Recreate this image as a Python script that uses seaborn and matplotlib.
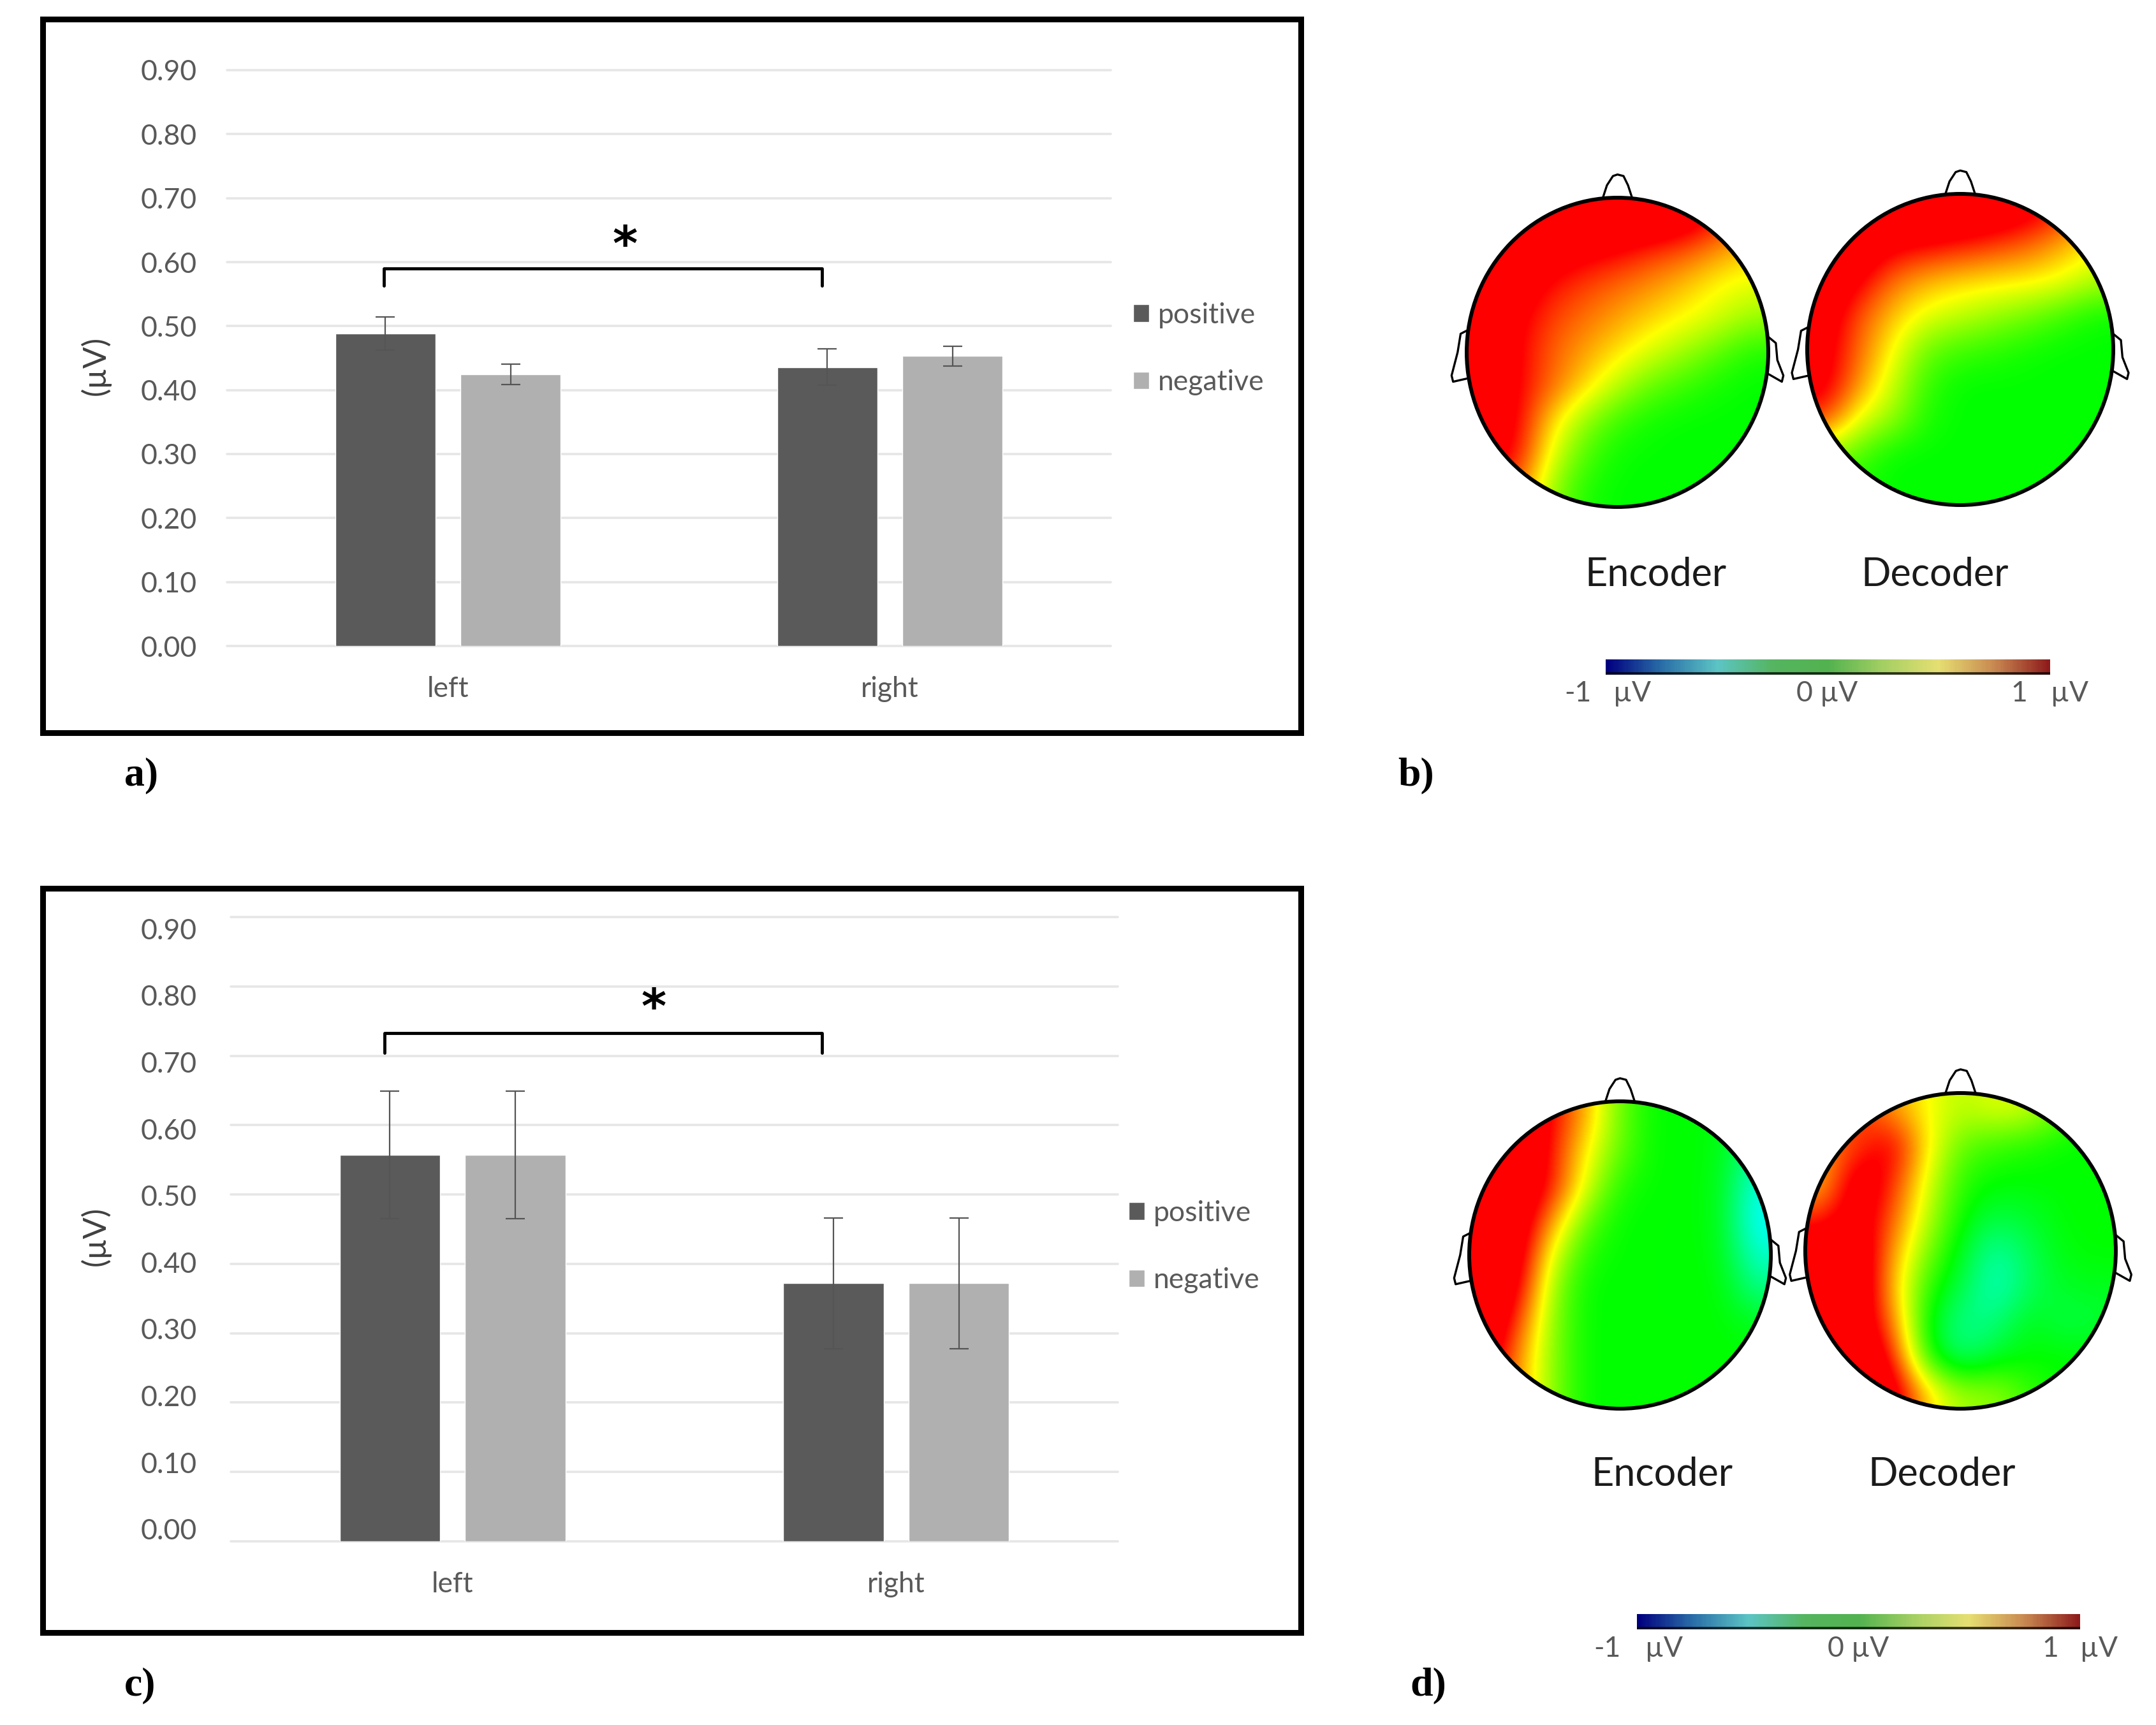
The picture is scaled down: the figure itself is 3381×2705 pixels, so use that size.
import numpy as np
import pandas as pd
import matplotlib
matplotlib.use('Agg')
import matplotlib.pyplot as plt
import seaborn as sns
from matplotlib.colors import LinearSegmentedColormap
from matplotlib.patches import Ellipse, Rectangle

W, H = 3381, 2705

sides = ['left', 'right']
valences = ['positive', 'negative']
y_ticks = [0.0, 0.1, 0.2, 0.3, 0.4, 0.5, 0.6, 0.7, 0.8, 0.9]

# panel a
a_left = [0.488, 0.425]
a_right = [0.436, 0.453]
a_left_err = [0.026, 0.016]
a_right_err = [0.028, 0.015]

# panel c
c_left = [0.557, 0.557]
c_right = [0.372, 0.372]
c_left_err = [0.092, 0.092]
c_right_err = [0.094, 0.094]

# scalp values (uV), rows front to back, columns left to right
b_encoder = [
    [1.30, 1.30, 1.30, 1.30, 1.30, 1.30, 1.20, 1.00, 0.80],
    [1.30, 1.30, 1.15, 1.08, 1.02, 0.92, 0.85, 0.72, 0.60],
    [1.30, 1.15, 0.98, 0.88, 0.80, 0.72, 0.62, 0.50, 0.45],
    [1.20, 1.05, 0.88, 0.78, 0.68, 0.58, 0.50, 0.42, 0.30],
    [1.20, 1.03, 0.82, 0.68, 0.55, 0.42, 0.30, 0.17, 0.05],
    [1.20, 1.03, 0.80, 0.58, 0.35, 0.18, 0.10, 0.03, 0.00],
    [1.20, 1.03, 0.58, 0.28, 0.10, 0.03, 0.00, 0.00, 0.00],
    [1.10, 1.00, 0.45, 0.15, 0.02, 0.00, 0.00, 0.00, 0.00],
    [1.00, 0.80, 0.30, 0.05, 0.00, 0.00, 0.00, 0.00, 0.00],
]
b_decoder = [
    [1.30, 1.30, 1.30, 1.30, 1.25, 1.20, 1.10, 0.95, 0.70],
    [1.30, 1.20, 1.05, 1.00, 0.95, 0.88, 0.80, 0.65, 0.50],
    [1.20, 1.05, 0.78, 0.65, 0.58, 0.55, 0.53, 0.48, 0.35],
    [1.15, 0.85, 0.62, 0.45, 0.38, 0.30, 0.22, 0.12, 0.02],
    [1.10, 0.80, 0.50, 0.20, 0.12, 0.08, 0.03, 0.00, 0.00],
    [1.10, 0.72, 0.40, 0.10, 0.00, 0.00, 0.00, 0.00, 0.00],
    [0.90, 0.45, 0.30, 0.05, 0.00, 0.00, 0.00, 0.00, 0.00],
    [0.30, 0.15, 0.00, 0.00, 0.00, 0.00, 0.00, 0.00, 0.00],
    [0.10, 0.05, 0.00, 0.00, 0.00, 0.00, 0.00, 0.00, 0.00],
]
d_encoder = [
    [1.30, 1.30, 1.00, 0.65, 0.20, 0.00, 0.00, -0.02, -0.20],
    [1.30, 1.30, 0.95, 0.50, 0.18, 0.00, 0.00, -0.02, -0.30],
    [1.30, 1.25, 0.95, 0.42, 0.05, 0.00, 0.00, -0.03, -0.45],
    [1.30, 1.20, 0.68, 0.18, 0.00, 0.00, 0.00, -0.03, -0.50],
    [1.30, 1.15, 0.42, 0.05, 0.00, 0.00, 0.00, -0.02, -0.40],
    [1.30, 1.05, 0.28, 0.00, 0.00, 0.00, 0.00, 0.00, -0.25],
    [1.30, 0.85, 0.25, 0.00, 0.00, 0.00, 0.00, 0.00, -0.05],
    [1.20, 0.70, 0.25, 0.00, 0.00, 0.00, 0.00, 0.00, 0.00],
    [1.10, 0.70, 0.25, 0.00, 0.00, 0.00, 0.00, 0.00, 0.00],
]
d_decoder = [
    [1.00, 0.90, 0.70, 0.50, 0.35, 0.45, 0.40, 0.20, 0.00],
    [0.70, 0.85, 1.10, 0.55, 0.18, 0.10, 0.05, 0.00, 0.00],
    [0.60, 1.20, 0.95, 0.45, 0.08, 0.00, 0.00, 0.00, 0.00],
    [0.90, 1.15, 0.85, 0.38, 0.02, -0.12, -0.08, 0.00, 0.00],
    [1.20, 1.25, 0.72, 0.25, -0.05, -0.33, -0.15, -0.02, 0.00],
    [1.30, 1.30, 0.65, 0.10, -0.12, -0.40, -0.18, -0.06, -0.05],
    [1.30, 1.20, 0.80, 0.00, -0.28, -0.25, -0.03, -0.15, -0.10],
    [1.30, 1.30, 1.00, 0.05, -0.25, -0.08, 0.00, 0.00, 0.00],
    [1.30, 1.30, 1.20, 0.60, 0.30, 0.30, 0.10, 0.00, 0.00],
]

topo_colors = ['#0000ff', '#00ffff', '#00ff00', '#ffff00', '#ff0000']
bar_colors = ['#00007f', '#2a6fa8', '#5cc4c4', '#55b560', '#52b24f',
              '#a4cf63', '#e6df72', '#c98a52', '#8e1c1c']

GREY_DARK = '#5a5a5a'
GREY_LIGHT = '#b0b0b0'
TEXT = '#595959'

sns.set_theme(style='white')
plt.rcParams['font.family'] = ['Lato', 'DejaVu Sans']

topo_cmap = LinearSegmentedColormap.from_list('topo', topo_colors)
strip_cmap = LinearSegmentedColormap.from_list('strip', bar_colors)

fig = plt.figure(figsize=(W / 100, H / 100), dpi=100, facecolor='white')


def px_axes(x0, y0, x1, y1, **kw):
    return fig.add_axes([x0 / W, 1 - y1 / H, (x1 - x0) / W, (y1 - y0) / H], **kw)


def px_text(x, y, s, **kw):
    kw.setdefault('ha', 'center')
    kw.setdefault('va', 'center')
    fig.text(x / W, 1 - y / H, s, **kw)


def bar_panel(box, label_box, left, right, left_err, right_err, bracket, star, legend_at):
    df = pd.DataFrame({
        'side': [sides[0]] * 2 + [sides[1]] * 2,
        'valence': valences * 2,
        'value': list(left) + list(right),
    })
    ax = px_axes(*box)
    sns.barplot(data=df, x='side', y='value', hue='valence', hue_order=valences,
                palette=[GREY_DARK, GREY_LIGHT], width=0.566, gap=0.2,
                saturation=1, errorbar=None, ax=ax, zorder=2)
    ax.set_xlim(-0.5, 1.5)
    ax.set_ylim(0, 0.9)
    ax.set_yticks(y_ticks)
    ax.set_yticklabels([])
    ax.yaxis.grid(True, color='#e6e6e6', lw=2.6, clip_on=False)
    ax.set_axisbelow(True)
    ax.tick_params(axis='both', length=0)
    ax.tick_params(axis='x', labelsize=32, labelcolor=TEXT, pad=34)
    ax.set_xlabel('')
    ax.set_ylabel('')
    sns.despine(ax=ax, left=True, bottom=True)

    # error bars sit on the centres of the bars seaborn drew
    errs = [[left_err[i], right_err[i]] for i in range(2)]
    for container, err in zip(ax.containers, errs):
        xs = [p.get_x() + p.get_width() / 2 for p in container]
        ys = [p.get_height() for p in container]
        ax.errorbar(xs, ys, yerr=err, fmt='none', ecolor='#555555', elinewidth=1.6,
                    capsize=11, capthick=1.6, zorder=3)

    # significance bracket
    bx0, bx1, y_low, y_top = bracket
    ax.plot([bx0, bx0, bx1, bx1], [y_low, y_top, y_top, y_low], color='black', lw=3.5,
            solid_joinstyle='round', clip_on=False, zorder=4)
    ax.text(star, y_top + 0.033, '*', fontsize=54, fontweight='bold', color='black',
            ha='center', va='center', family='DejaVu Sans')

    sns.move_legend(ax, loc='center left', bbox_to_anchor=legend_at, frameon=False,
                    title=None, fontsize=32, labelcolor=TEXT, handlelength=0.58,
                    handleheight=0.58, handletextpad=0.3, labelspacing=1.45,
                    borderpad=0, borderaxespad=0)

    # y labels have their own slightly different scale in the source image
    lab = px_axes(box[0], label_box[0], box[2], label_box[1])
    lab.patch.set_visible(False)
    lab.set_ylim(0, 0.9)
    lab.set_xticks([])
    lab.set_yticks(y_ticks)
    lab.set_yticklabels([f'{v:.2f}' for v in y_ticks], fontsize=32, color=TEXT)
    lab.tick_params(axis='y', length=0, pad=label_box[2])
    sns.despine(ax=lab, left=True, bottom=True)
    return ax


def head(x0, y0, x1, y1, grid):
    # the axes spans the scalp, unit circle in axes data
    ax = px_axes(x0, y0, x1, y1)
    ax.set_xlim(-1, 1)
    ax.set_ylim(-1, 1)
    ax.axis('off')
    im = ax.imshow(grid, cmap=topo_cmap, vmin=-1, vmax=1, extent=(-1, 1, -1, 1),
                   origin='upper', aspect='auto', interpolation='bicubic',
                   interpolation_stage='data')
    clip = Ellipse((0, 0), 2, 2, transform=ax.transData, fc='none')
    ax.add_patch(clip)
    im.set_clip_path(clip)
    ax.add_patch(Ellipse((0, 0), 2, 2, fc='none', ec='black', lw=4.3, clip_on=False))
    # nose and ears
    ax.plot([-0.10, -0.07, -0.03, 0.0, 0.04, 0.07, 0.10],
            [0.99, 1.08, 1.14, 1.15, 1.14, 1.08, 0.99],
            color='black', lw=2.4, clip_on=False)
    ax.plot([-1.0, -1.04, -1.06, -1.10, -1.09, -1.0],
            [0.14, 0.12, 0.0, -0.15, -0.19, -0.17], color='black', lw=2.4, clip_on=False)
    ax.plot([1.0, 1.05, 1.06, 1.10, 1.09, 1.0],
            [0.10, 0.06, -0.05, -0.15, -0.19, -0.14], color='black', lw=2.4, clip_on=False)


def strip(x0, y0, x1, y1):
    ax = px_axes(x0, y0, x1, y1)
    levels = np.linspace(-1, 1, 300)[np.newaxis, :]
    sns.heatmap(levels, cmap=strip_cmap, vmin=-1, vmax=1, cbar=False, ax=ax,
                xticklabels=False, yticklabels=False)
    ax.axhline(0.93, color='black', alpha=0.75, lw=3.5)


# frames
frame_ax = fig.add_axes([0, 0, 1, 1], zorder=-1)
frame_ax.set_xlim(0, W)
frame_ax.set_ylim(H, 0)
frame_ax.axis('off')
frame_ax.add_patch(Rectangle((67, 30), 1973, 1119, fc='none', ec='black', lw=6.5))
frame_ax.add_patch(Rectangle((67, 1393), 1973, 1167, fc='none', ec='black', lw=6.5))

bar_panel((356, 110, 1742, 1013), (110, 1013, 34), a_left, a_right, a_left_err, a_right_err,
          (-0.145, 0.847, 0.563, 0.59), 0.40, (1.025, 0.516))
bar_panel((362, 1438, 1753, 2417), (1456, 2398, 38), c_left, c_right, c_left_err, c_right_err,
          (-0.153, 0.833, 0.704, 0.733), 0.454, (1.012, 0.472))

px_text(150, 573, '(µV)', rotation=90, fontsize=36, color='#404040')
px_text(150, 1938, '(µV)', rotation=90, fontsize=36, color='#404040')

head(2300, 310, 2773, 795, b_encoder)
head(2834, 304, 3314, 792, b_decoder)
head(2304, 1727, 2777, 2209, d_encoder)
head(2831, 1714, 3318, 2209, d_decoder)

px_text(2596, 902, 'Encoder', fontsize=44, color='#1a1a1a')
px_text(3034, 902, 'Decoder', fontsize=44, color='#1a1a1a')
px_text(2606, 2313, 'Encoder', fontsize=44, color='#1a1a1a')
px_text(3045, 2313, 'Decoder', fontsize=44, color='#1a1a1a')

strip(2518, 1034, 3215, 1058)
strip(2567, 2531, 3262, 2555)

for x, s in [(2474, '-1'), (2560, 'µV'), (2865, '0 µV'), (3166, '1'), (3246, 'µV')]:
    px_text(x, 1088, s, fontsize=32, color=TEXT)
for x, s in [(2520, '-1'), (2609, 'µV'), (2914, '0 µV'), (3215, '1'), (3292, 'µV')]:
    px_text(x, 2585, s, fontsize=32, color=TEXT)

for x, y, s in [(222, 1216, 'a)'), (2221, 1216, 'b)'), (220, 2643, 'c)'), (2240, 2643, 'd)')]:
    px_text(x, y, s, fontsize=46, fontweight='bold', color='black', family='Liberation Serif')

fig.savefig('out.png', dpi=100)
